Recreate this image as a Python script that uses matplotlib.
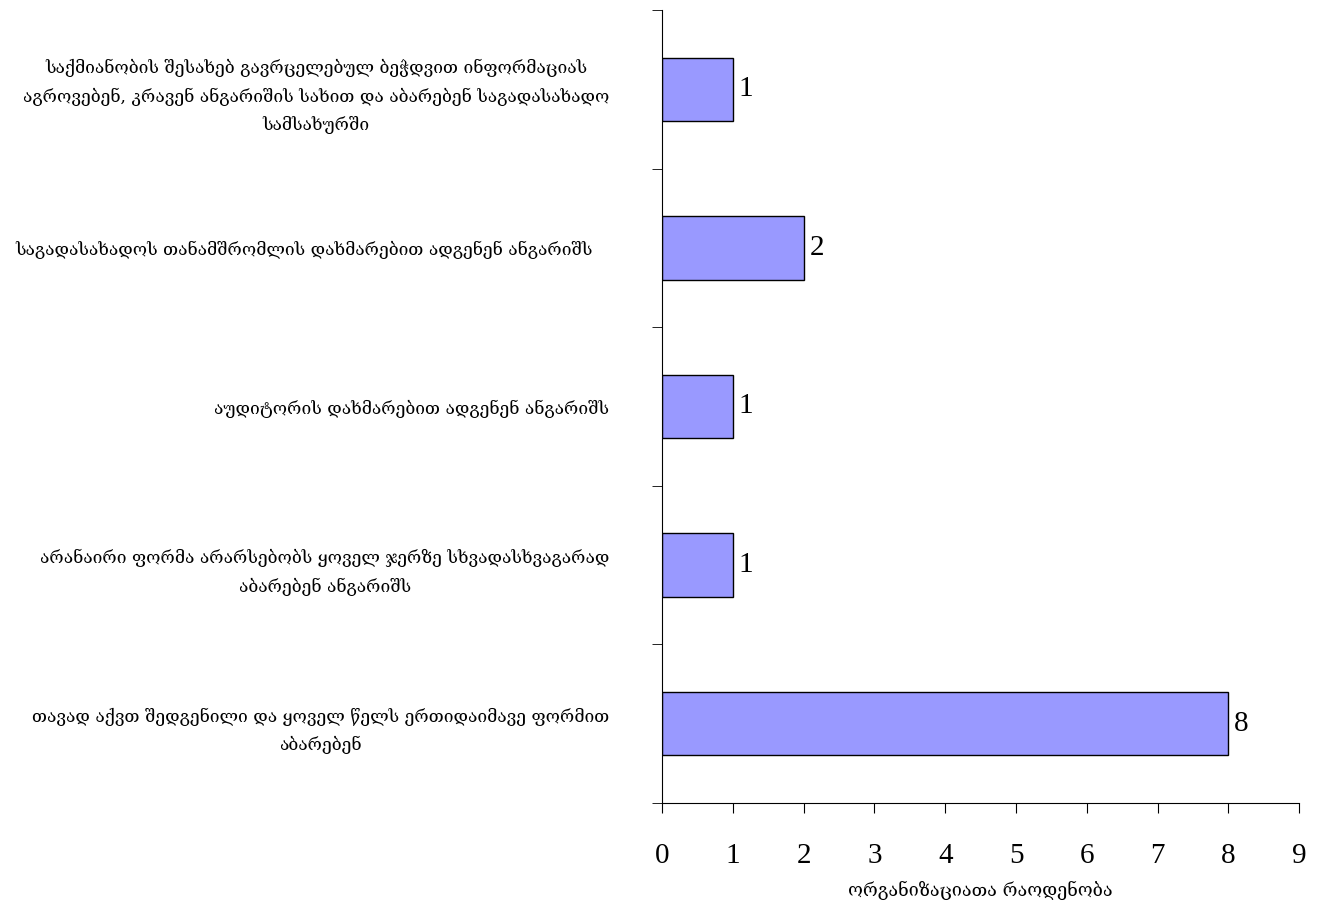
import numpy as np
import matplotlib.pyplot as plt

# data
Labels = ['საქმიანობის შესახებ გავრცელებულ ბეჭდვით ინფორმაციას\nაგროვებენ, კრავენ ანგარიშის სახით და აბარებენ საგადასახადო\nსამსახურში',
          'საგადასახადოს თანამშრომლის დახმარებით ადგენენ ანგარიშს   ',
          'აუდიტორის დახმარებით ადგენენ ანგარიშს',
          'არანაირი ფორმა არარსებობს ყოველ ჯერზე სხვადასხვაგარად\nაბარებენ ანგარიშს',
          'თავად აქვთ შედგენილი და ყოველ წელს ერთიდაიმავე ფორმით\nაბარებენ']
Counts = [1, 2, 1, 1, 8]
XTicks = [0, 1, 2, 3, 4, 5, 6, 7, 8, 9]
XLabel = 'ორგანიზაციათა რაოდენობა'

Geo_Font = ['DejaVu Serif', 'DejaVu Sans']
Num_Font = ['Liberation Serif', 'DejaVu Serif']

fig = plt.figure(figsize=(13.19, 9.11), dpi=100)
ax = fig.add_axes([0.502, 0.1186, 0.483, 0.8704])

Pos = np.arange(len(Counts))
ax.barh(Pos, Counts, height=0.4, color='#9999FF', edgecolor='black', linewidth=1)
for i in range(len(Counts)):
    ax.text(Counts[i] + 0.08, Pos[i], str(Counts[i]), va='center', ha='left',
            fontsize=21, family=Num_Font)

ax.set_xlim(0, 9)
ax.set_ylim(len(Counts) - 0.5, -0.5)
ax.spines['top'].set_visible(False)
ax.spines['right'].set_visible(False)

ax.set_xticks(XTicks)
ax.set_xticklabels([str(t) for t in XTicks], fontsize=21, family=Num_Font)
ax.tick_params(axis='x', direction='out', length=7, pad=22)

ax.set_yticks(Pos)
ax.set_yticklabels(Labels, fontsize=12.5, family=Geo_Font, ha='right',
                   multialignment='center', linespacing=1.75)
ax.tick_params(axis='y', which='major', length=0, pad=38)
ax.set_yticks(np.arange(len(Counts) + 1) - 0.5, minor=True)
ax.tick_params(axis='y', which='minor', direction='out', length=7)

ax.set_xlabel(XLabel, fontsize=13, family=Geo_Font, labelpad=8)

fig.savefig('out.png', dpi=100)
